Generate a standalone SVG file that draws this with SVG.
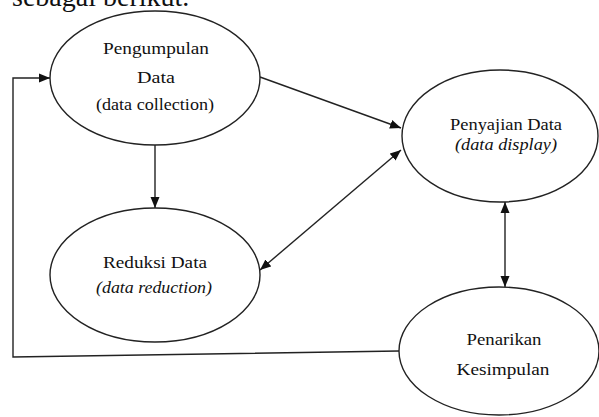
<svg xmlns="http://www.w3.org/2000/svg" width="599" height="417" viewBox="0 0 599 417">
<style>
.n{fill:#fff;stroke:#222;stroke-width:1.4}
.c{fill:none;stroke:#222;stroke-width:1.4}
.f{font-family:"Liberation Serif","Times New Roman","DejaVu Serif",serif;fill:#111}
.t{font-size:16px;text-anchor:middle}
.i{font-style:italic}
</style>
<defs>
<marker id="a" markerUnits="userSpaceOnUse" markerWidth="12" markerHeight="10" refX="11" refY="5" orient="auto-start-reverse">
<path d="M0,0.5 L11,5 L0,9.5 z" fill="#111"/>
</marker>
</defs>
<text class="f" x="12" y="6" font-size="28">sebagai berikut.</text>
<g id="connectors">
<path class="c" d="M399,351 L13,357 L13,78 L50,78" marker-end="url(#a)"/>
<path class="c" d="M155,145 L155,208" marker-end="url(#a)"/>
<path class="c" d="M260,77 L401,128" marker-end="url(#a)"/>
<path class="c" d="M260,270 L401,150" marker-start="url(#a)" marker-end="url(#a)"/>
<path class="c" d="M505,202 L505,287" marker-start="url(#a)" marker-end="url(#a)"/>
</g>
<g id="pengumpulan">
<ellipse class="n" cx="155" cy="78" rx="105" ry="67"/>
<text class="f t" x="156" y="54" textLength="106" lengthAdjust="spacingAndGlyphs">Pengumpulan</text>
<text class="f t" x="156" y="83" textLength="38" lengthAdjust="spacingAndGlyphs">Data</text>
<text class="f t" x="155" y="110" textLength="118" lengthAdjust="spacingAndGlyphs">(data collection)</text>
</g>
<g id="penyajian">
<ellipse class="n" cx="500" cy="136" rx="98" ry="66"/>
<text class="f t" x="506" y="130" textLength="112" lengthAdjust="spacingAndGlyphs">Penyajian Data</text>
<text class="f t i" x="506" y="150" textLength="102" lengthAdjust="spacingAndGlyphs">(data display)</text>
</g>
<g id="reduksi">
<ellipse class="n" cx="155" cy="275" rx="105" ry="67"/>
<text class="f t" x="155" y="268" textLength="104" lengthAdjust="spacingAndGlyphs">Reduksi Data</text>
<text class="f t i" x="154" y="293" textLength="116" lengthAdjust="spacingAndGlyphs">(data reduction)</text>
</g>
<g id="penarikan">
<ellipse class="n" cx="499" cy="351" rx="100" ry="64"/>
<text class="f t" x="504" y="345" textLength="75" lengthAdjust="spacingAndGlyphs">Penarikan</text>
<text class="f t" x="503" y="375" textLength="93" lengthAdjust="spacingAndGlyphs">Kesimpulan</text>
</g>
</svg>
